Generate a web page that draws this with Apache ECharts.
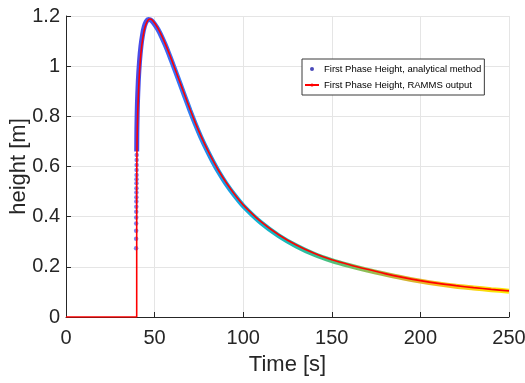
<!DOCTYPE html>
<html>
<head>
<meta charset="utf-8">
<script src="https://cdn.jsdelivr.net/npm/echarts@6/dist/echarts.min.js"></script>
<style>
html,body{margin:0;padding:0;background:#fff;}
#c{width:525px;height:383px;}
</style>
</head>
<body>
<div id="c"></div>
<script>
// X tick values
const xTicks = [0, 50, 100, 150, 200, 250];
const yTicks = [0, 0.2, 0.4, 0.6, 0.8, 1, 1.2];

// Analytical method: separated dots on the steep rise
const riseTime =   [39.55, 39.57, 39.59, 39.61, 39.63, 39.65, 39.67, 39.69, 39.71, 39.73, 39.75, 39.77, 39.79, 39.81, 39.83, 39.85, 39.87, 39.89];
const riseHeight = [0.274, 0.312, 0.344, 0.373, 0.397, 0.420, 0.440, 0.460, 0.477, 0.496, 0.513, 0.533, 0.549, 0.566, 0.586, 0.606, 0.626, 0.646];

// Analytical method: dense band (continuous part)
const analyticalTime =   [39.9, 40.0, 40.3, 40.8, 41.5, 42.3, 43.2, 44.2, 45.3, 46.5, 47.5, 48.5, 50, 52, 54, 56, 58, 60, 62, 64, 67, 70, 73, 76, 80, 83, 86, 90, 95, 100, 110, 120, 130, 140, 150, 160, 170, 180, 190, 200, 210, 220, 230, 240, 250];
const analyticalHeight = [0.66, 0.75, 0.85, 0.94, 1.02, 1.08, 1.125, 1.158, 1.178, 1.186, 1.185, 1.18, 1.167, 1.145, 1.117, 1.085, 1.05, 1.013, 0.975, 0.937, 0.88, 0.823, 0.769, 0.719, 0.659, 0.618, 0.58, 0.535, 0.486, 0.443, 0.376, 0.324, 0.283, 0.25, 0.225, 0.205, 0.187, 0.171, 0.156, 0.143, 0.132, 0.123, 0.116, 0.109, 0.103];

// RAMMS output
const rammsTime =   [0, 39.9, 39.9, 40.1, 40.5, 41.0, 41.6, 42.4, 43.3, 44.3, 45.4, 46.5, 47.4, 48.5, 50, 52, 54, 56, 58, 60, 62, 64, 67, 70, 73, 76, 80, 83, 86, 90, 95, 100, 110, 120, 130, 140, 150, 160, 170, 180, 190, 200, 210, 220, 230, 240, 250];
const rammsHeight = [0, 0, 0.5, 0.70, 0.82, 0.91, 0.99, 1.06, 1.11, 1.148, 1.172, 1.185, 1.188, 1.185, 1.172, 1.15, 1.122, 1.09, 1.055, 1.018, 0.98, 0.942, 0.885, 0.828, 0.774, 0.724, 0.664, 0.623, 0.585, 0.54, 0.49, 0.447, 0.38, 0.328, 0.287, 0.254, 0.228, 0.208, 0.19, 0.173, 0.158, 0.145, 0.134, 0.125, 0.117, 0.110, 0.104];

const nameA = 'First Phase Height, analytical method';
const nameR = 'First Phase Height, RAMMS output';

const zip = (a, b) => a.map((v, i) => [v, b[i]]);

const FONT = "'Liberation Sans', Arial, Helvetica, sans-serif";
const TXT = '#262626';

const chart = echarts.init(document.getElementById('c'), null, {renderer: 'canvas'});
chart.setOption({
  animation: false,
  backgroundColor: '#ffffff',
  textStyle: {fontFamily: FONT},
  grid: {left: 66, right: 16, top: 16, bottom: 66, containLabel: false, outerBoundsMode: 'none'},
  xAxis: {
    type: 'value', min: xTicks[0], max: xTicks[xTicks.length - 1], interval: 50,
    name: 'Time [s]', nameLocation: 'middle', nameGap: 37, nameMoveOverlap: false,
    nameTextStyle: {fontSize: 22, color: TXT, fontFamily: FONT},
    axisLine: {show: true, lineStyle: {color: TXT, width: 1}},
    axisTick: {show: true, inside: true, length: 5, lineStyle: {color: TXT}},
    axisLabel: {fontSize: 20, color: TXT, margin: 11, fontFamily: FONT},
    splitLine: {show: true, lineStyle: {color: '#e5e5e5', width: 1}}
  },
  yAxis: {
    type: 'value', min: yTicks[0], max: yTicks[yTicks.length - 1], interval: 0.2,
    name: 'height [m]', nameLocation: 'middle', nameGap: 36, nameMoveOverlap: false,
    nameTextStyle: {fontSize: 22, color: TXT, fontFamily: FONT},
    axisLine: {show: true, lineStyle: {color: TXT, width: 1}},
    axisTick: {show: true, inside: true, length: 5, lineStyle: {color: TXT}},
    axisLabel: {fontSize: 20, color: TXT, margin: 6, fontFamily: FONT,
      formatter: v => String(Math.round(v * 10) / 10)},
    splitLine: {show: true, lineStyle: {color: '#e5e5e5', width: 1}}
  },
  legend: {
    orient: 'vertical', left: 302, top: 59,
    padding: [5, 3, 5, 2],
    itemWidth: 14, itemHeight: 4, itemGap: 6,
    backgroundColor: '#ffffff', borderColor: '#3a3a3a', borderWidth: 1,
    textStyle: {fontSize: 9.5, color: '#000', fontFamily: FONT},
    data: [
      {name: nameA, icon: 'circle', itemStyle: {color: '#1c1ca8'}},
      {name: nameR}
    ]
  },
  visualMap: {
    type: 'continuous', show: false, dimension: 0, seriesIndex: 1,
    min: 40, max: 250,
    inRange: {color: ['#4a4ae6', '#3a70f8', '#2090ea', '#10aed8', '#18bab8', '#40c088', '#84c05c', '#c8b036', '#f4b820', '#f8d010', '#f8f000']}
  },
  series: [
    {
      name: nameA, type: 'scatter', z: 3,
      symbol: 'circle', symbolSize: 4.5,
      itemStyle: {color: 'rgba(72,72,232,0.85)'},
      data: zip(riseTime, riseHeight)
    },
    {
      name: nameA, type: 'line', z: 2,
      showSymbol: false, symbol: 'none', smooth: 0.25,
      lineStyle: {width: 5},
      data: zip(analyticalTime, analyticalHeight)
    },
    {
      name: nameR, type: 'line', z: 4,
      showSymbol: false, symbol: 'none', smooth: 0.25,
      itemStyle: {color: '#ff0000'},
      lineStyle: {width: 1.6, color: '#ff0000'},
      data: zip(rammsTime, rammsHeight)
    }
  ]
});
</script>
</body>
</html>
